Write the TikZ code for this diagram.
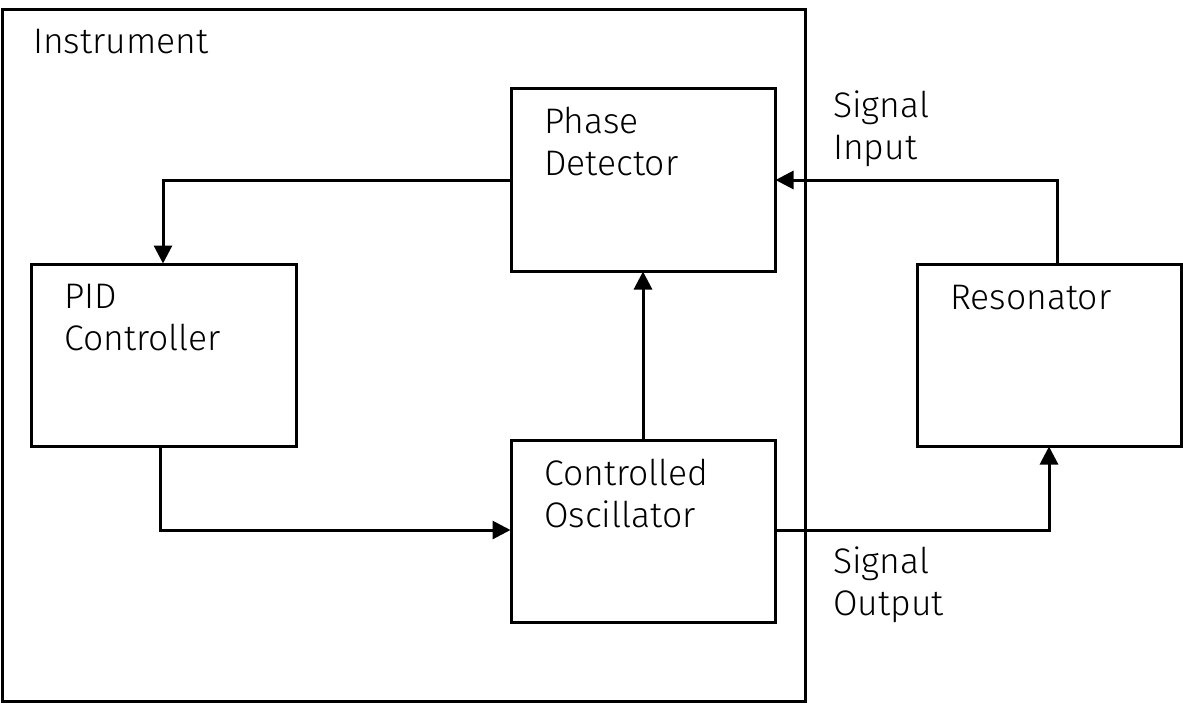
\documentclass[tikz,border=0pt]{standalone}
\usepackage{fontspec}
\setmainfont{Fira Sans}[UprightFont={* Light}]
\usetikzlibrary{arrows.meta}
\begin{document}
\begin{tikzpicture}[x=1pt,y=-1pt,
  box/.style={draw=black, line width=3pt, rectangle, inner sep=0pt},
  conn/.style={draw=black, line width=3pt, -{Triangle[length=18pt,width=18pt]}, shorten >=-1pt},
  txt/.style={anchor=base west, inner sep=0pt, align=left, font=\fontsize{35.5}{42}\selectfont}]
\useasboundingbox (0,0) rectangle (1183,713);
\fill[white] (0,0) rectangle (1183,713);
% boxes
\draw[line width=3pt] (2,9) rectangle (805,701);
\node[txt] (instlbl) at (33,53) {Instrument};
\node[box, minimum width=264pt, minimum height=183pt] (pd) at (643,179.5) {};
\node[box, minimum width=265pt, minimum height=182pt] (pid) at (163.5,355) {};
\node[box, minimum width=264pt, minimum height=182pt] (osc) at (643,531) {};
\node[box, minimum width=264pt, minimum height=182pt] (res) at (1049,355) {};
% labels (anchor at baseline of last line)
\node[txt] (pdlbl) at (544,175) {Phase\\Detector};
\node[txt] (pidlbl) at (64,350) {PID\\Controller};
\node[txt] (osclbl) at (544,527) {Controlled\\Oscillator};
\node[txt] (reslbl) at (950,309) {Resonator};
\node[txt] (inlbl) at (833,159) {Signal\\Input};
\node[txt] (outlbl) at (833,615) {Signal\\Output};
% connectors
\draw[conn] (pd.west |- 0,180) -| (pid.north -| 163,0);
\draw[conn] (pid.south -| 160,0) |- (osc.west |- 0,530);
\draw[conn] (osc.north) -- (pd.south);
\draw[conn] (res.north -| 1057,0) |- (pd.east |- 0,180);
\draw[conn] (osc.east |- 0,530) -| (res.south -| 1049,0);
\end{tikzpicture}
\end{document}
